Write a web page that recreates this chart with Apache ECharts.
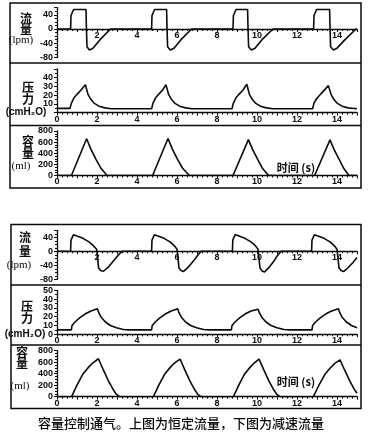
<!DOCTYPE html>
<html><head><meta charset="utf-8">
<script src="https://cdn.jsdelivr.net/npm/echarts@6/dist/echarts.min.js"></script>
<style>html,body{margin:0;padding:0;background:#fff}#c{width:371px;height:433px}</style>
</head><body><div id="c"></div>
<script>
// ---- data (time s, value) ----
const xTickLabels = ['0','2','4','6','8','10','12','14'];
const flowTicks = [-80,-40,0,40];
const presTicks = [0,10,20,30,40,50];
const volTicks = [0,200,400,600,800];

// Upper figure: constant flow
const constFlow = [
 [0,0],[0.68,0],[0.70,38],[0.83,55],[1.45,55],[1.47,5],[1.50,-50],[1.62,-59],[1.80,-54],[2.15,-30],[2.68,0],
 [4.73,0],[4.75,38],[4.88,55],[5.48,55],[5.50,5],[5.53,-50],[5.66,-59],[5.85,-54],[6.20,-30],[6.73,0],
 [8.80,0],[8.82,38],[8.95,55],[9.53,55],[9.55,5],[9.58,-50],[9.72,-59],[9.90,-54],[10.25,-30],[10.80,0],
 [12.83,0],[12.85,38],[12.98,55],[13.63,55],[13.65,5],[13.68,-50],[13.82,-59],[14.00,-54],[14.40,-30],[14.95,0],[15,0]
];
const constPressure = [
 [0,5],[0.65,5],[0.72,11],[0.85,17],[1.0,21],[1.2,26],[1.42,32],[1.55,21],[1.70,15],[1.85,11],[2.1,7.5],[2.4,5.5],[2.7,4.5],
 [4.73,4.5],[4.80,11],[4.93,17],[5.08,21],[5.28,26],[5.45,32],[5.58,21],[5.73,15],[5.88,11],[6.13,7.5],[6.43,5.5],[6.75,4.5],
 [8.75,4.5],[8.82,11],[8.95,17],[9.10,21],[9.30,26],[9.49,32.5],[9.62,21],[9.77,15],[9.92,11],[10.17,7.5],[10.47,5.5],[10.8,4.5],
 [12.78,4.5],[12.85,11],[12.98,16],[13.13,20],[13.33,25],[13.57,31],[13.70,21],[13.85,15],[14.0,11],[14.25,7.5],[14.55,5.5],[15,4.5]
];
const constVolume = [
 [0,0],[0.72,0],[1.48,660],[1.70,470],[1.95,290],[2.20,130],[2.50,0],
 [4.78,0],[5.55,665],[5.77,475],[6.02,295],[6.28,130],[6.62,0],
 [8.80,0],[9.57,645],[9.79,460],[10.04,285],[10.28,125],[10.58,0],
 [12.88,0],[13.65,640],[13.87,455],[14.12,280],[14.35,120],[14.60,0],[15,0]
];

// Lower figure: decelerating flow
const decelFlow = [
 [0,0],[0.68,0],[0.70,32],[0.82,47],[1.0,44],[1.3,37],[1.6,27],[1.8,17],[1.98,6],[2.03,-20],[2.08,-48],[2.18,-55],[2.32,-57],[2.55,-46],[2.82,-28],[3.05,-12],[3.25,0],
 [4.73,0],[4.75,32],[4.87,47],[5.05,44],[5.35,37],[5.65,27],[5.85,17],[6.0,6],[6.05,-20],[6.10,-48],[6.20,-55],[6.32,-58],[6.55,-46],[6.82,-28],[7.0,-14],[7.2,0],
 [8.77,0],[8.79,32],[8.91,48],[9.1,44],[9.4,37],[9.7,27],[9.9,17],[10.05,6],[10.10,-20],[10.15,-48],[10.25,-56],[10.38,-59],[10.6,-46],[10.85,-28],[11.0,-14],[11.2,0],
 [12.73,0],[12.75,32],[12.87,47],[13.05,44],[13.35,37],[13.65,27],[13.85,17],[14.0,6],[14.05,-20],[14.10,-48],[14.20,-55],[14.33,-58],[14.55,-47],[14.8,-32],[15,-18]
];
const decelPressure = [
 [0,5],[0.72,5],[0.75,10],[0.9,14],[1.1,18],[1.4,23],[1.7,26.5],[2.02,29],[2.1,24],[2.22,19],[2.42,14],[2.67,10],[2.97,7.5],[3.32,5.5],[3.62,5],
 [4.73,5],[4.76,10],[4.91,14],[5.11,18],[5.41,23],[5.71,26.5],[6.03,29],[6.11,24],[6.23,19],[6.43,14],[6.68,10],[6.98,7.5],[7.33,5.5],[7.63,5],
 [8.72,5],[8.75,10],[8.9,14],[9.1,18],[9.4,23],[9.7,26.5],[10.05,28.5],[10.13,24],[10.25,19],[10.45,14],[10.7,10],[11.0,7.5],[11.35,5.5],[11.65,5],
 [12.75,5],[12.78,10],[12.93,14],[13.13,18],[13.43,23],[13.73,26.5],[14.07,29],[14.15,24],[14.27,19],[14.47,14],[14.72,10],[15,7.5]
];
const decelVolume = [
 [0,0],[0.73,0],[1.0,200],[1.3,395],[1.57,510],[1.8,590],[2.07,660],[2.3,480],[2.55,290],[2.8,130],[2.95,50],[3.12,0],
 [4.82,0],[5.09,200],[5.39,395],[5.66,510],[5.89,590],[6.15,655],[6.38,475],[6.63,285],[6.88,125],[7.03,45],[7.2,0],
 [8.82,0],[9.09,200],[9.38,395],[9.65,510],[9.87,590],[10.1,655],[10.33,475],[10.58,285],[10.83,125],[10.98,45],[11.15,0],
 [12.82,0],[13.09,195],[13.39,385],[13.66,500],[13.89,580],[14.15,640],[14.38,465],[14.63,280],[14.88,120],[15,60]
];

const chart = echarts.init(document.getElementById('c'), null, {renderer:'canvas'});
const ink = '#0a0a0a';
const lblFont = {color: ink, fontSize: 9, fontWeight: 'bold', fontFamily: 'Liberation Sans'};

// main plot grids + two axis-only grids that carry the flow time axis along the zero line
const gridBoxes = [
 {top: 7.7, height: 49.7},
 {top: 69, height: 43.7},
 {top: 131, height: 44.5},
 {top: 230.3, height: 49},
 {top: 290.3, height: 44},
 {top: 350.7, height: 46},
 {top: 7.7, height: 21.3},
 {top: 230.3, height: 21}
];
const grids = gridBoxes.map(g => Object.assign({left: 57, right: 14, containLabel: false}, g));

const kinds = ['flow','pres','vol','flow','pres','vol','zero','zero'];
const seriesData = [constFlow, constPressure, constVolume, decelFlow, decelPressure, decelVolume];

const xAxes = kinds.map((k, i) => ({
  type: 'value', gridIndex: i, min: 0, max: 15, interval: 1,
  show: k !== 'flow',
  position: 'bottom',
  axisLine: {onZero: false, lineStyle: {color: ink, width: 1.3}},
  axisTick: {show: true, length: 3, lineStyle: {color: ink}},
  minorTick: {show: true, splitNumber: 4, length: 2, lineStyle: {color: ink}},
  splitLine: {show: false},
  axisLabel: Object.assign({}, lblFont, {
    margin: 2,
    formatter: v => {
      const s = String(v);
      if (!xTickLabels.includes(s)) return '';
      if (k === 'zero' && v === 0) return '';
      return s;
    }
  })
}));

const yCfg = {
  flow: {min: -80, max: 60, interval: 40, ticks: flowTicks, split: 4},
  pres: {min: 0, max: 50, interval: 10, ticks: presTicks, split: 2},
  vol: {min: 0, max: 800, interval: 200, ticks: volTicks, split: 4},
  zero: {min: 0, max: 60, interval: 20, ticks: [], split: 1}
};
const yAxes = kinds.map((k, i) => {
  const c = yCfg[k];
  return {
    type: 'value', gridIndex: i, min: c.min, max: c.max, interval: c.interval,
    show: k !== 'zero',
    axisLine: {show: true, onZero: false, lineStyle: {color: ink, width: 1.3}},
    axisTick: {show: true, length: 3, lineStyle: {color: ink}},
    minorTick: {show: true, splitNumber: c.split, length: 2, lineStyle: {color: ink}},
    splitLine: {show: false},
    axisLabel: Object.assign({}, lblFont, {
      margin: 4,
      formatter: v => c.ticks.includes(v) ? String(v) : ''
    })
  };
});

const series = seriesData.map((d, i) => ({
  type: 'line', xAxisIndex: i, yAxisIndex: i, data: d,
  showSymbol: false, symbol: 'none', animation: false,
  lineStyle: {color: ink, width: 1.6}
}));

const cjk = (t, x, y, size, weight) => ({
  type: 'text', x: x, y: y, z: 10,
  style: {text: t, fill: ink, font: (weight || 'bold') + ' ' + size + 'px "Noto Sans CJK SC"', textAlign: 'center', textVerticalAlign: 'middle'}
});
const lat = (t, x, y, size, fam) => ({
  type: 'text', x: x, y: y, z: 10,
  style: {text: t, fill: ink, font: size + 'px ' + (fam || '"Liberation Serif"'), textAlign: 'center', textVerticalAlign: 'middle'}
});
const hline = (y, x1, x2) => ({type: 'line', shape: {x1: x1, y1: y, x2: x2, y2: y}, style: {stroke: ink, lineWidth: 1.5}});

const graphics = [
  {type: 'rect', shape: {x: 10, y: 3, width: 351, height: 185}, style: {fill: 'none', stroke: ink, lineWidth: 1.5}},
  hline(63, 10, 361), hline(125.5, 10, 361),
  {type: 'rect', shape: {x: 11, y: 224.5, width: 350, height: 184}, style: {fill: 'none', stroke: ink, lineWidth: 1.5}},
  hline(285, 11, 361), hline(345, 11, 361),
  // top figure axis names
  cjk('流', 26, 18, 12), cjk('量', 26, 29, 12), lat('(lpm)', 21, 40, 11),
  cjk('压', 28, 87, 12), cjk('力', 28, 99, 12), lat('(cmH₂O)', 26, 112, 'bold 10', '"Liberation Sans"'),
  cjk('容', 28, 141, 12), cjk('量', 28, 153, 12), lat('(ml)', 21, 166, 11),
  // bottom figure axis names
  cjk('流', 25, 237, 12), cjk('量', 25, 251, 12), lat('(lpm)', 19, 265, 11),
  cjk('压', 27, 306, 12), cjk('力', 27, 318, 12), lat('(cmH₂O)', 25, 334, 'bold 10', '"Liberation Sans"'),
  cjk('容', 22, 352, 12), cjk('量', 22, 363, 12), lat('(ml)', 20, 386, 11),
  // annotations
  cjk('时间 (s)', 296, 168, 11),
  cjk('时间 (s)', 296, 382, 11),
  cjk('容量控制通气。上图为恒定流量，下图为减速流量', 181, 423, 13, '500')
];

chart.setOption({
  animation: false,
  backgroundColor: '#fff',
  grid: grids,
  xAxis: xAxes,
  yAxis: yAxes,
  series: series,
  graphic: graphics
});
</script>
</body></html>
